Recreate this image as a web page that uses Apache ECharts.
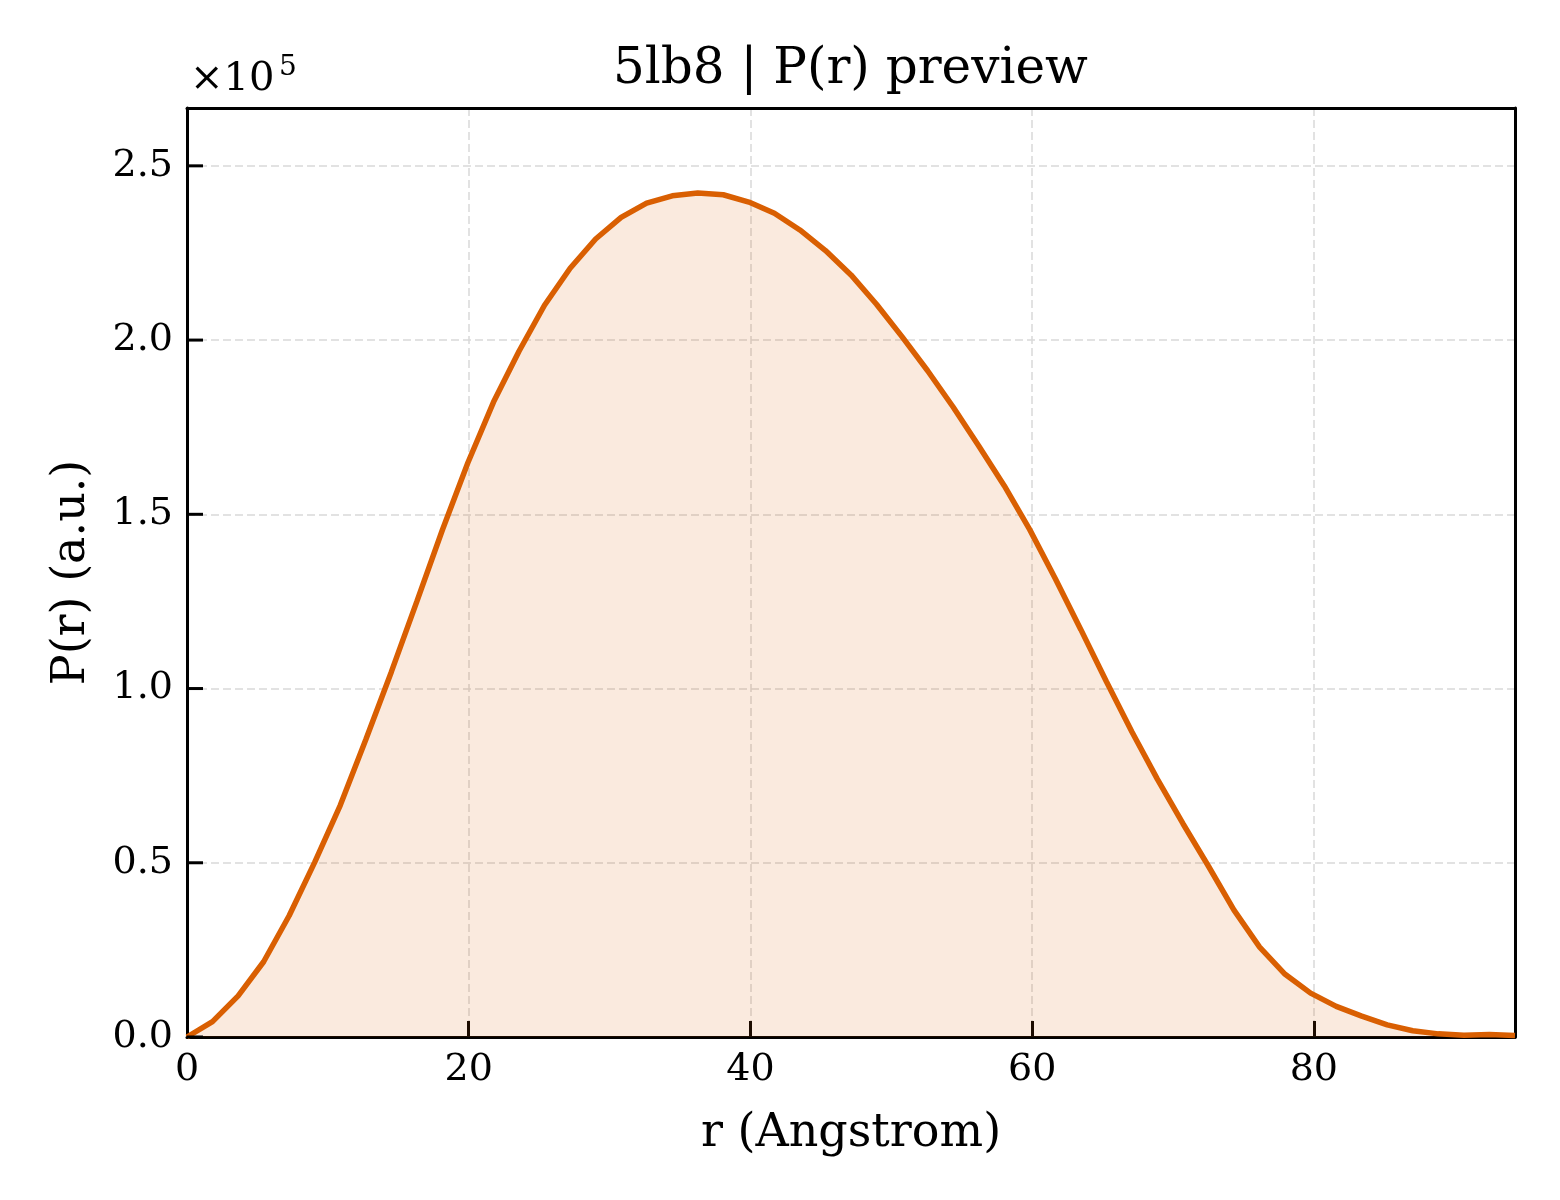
<!DOCTYPE html>
<html>
<head>
<meta charset="utf-8">
<script src="https://cdn.jsdelivr.net/npm/echarts@6/dist/echarts.min.js"></script>
<style>
  html, body { margin: 0; padding: 0; background: #fff; }
  #chart { width: 1560px; height: 1200px; }
</style>
</head>
<body>
<div id="chart"></div>
<script>
// r values (Angstrom)
const rValues = [
  0, 1.81, 3.63, 5.44, 7.25, 9.07, 10.88, 12.69, 14.50, 16.32,
  18.13, 19.94, 21.76, 23.57, 25.38, 27.20, 29.01, 30.82, 32.63, 34.45,
  36.26, 38.07, 39.89, 41.70, 43.51, 45.33, 47.14, 48.95, 50.76, 52.58,
  54.39, 56.20, 58.02, 59.83, 61.64, 63.46, 65.27, 67.08, 68.89, 70.71,
  72.52, 74.33, 76.15, 77.96, 79.77, 81.59, 83.40, 85.21, 87.02, 88.84,
  90.65, 92.46, 94.28
];
// P(r) values in units of 1e5
const prValues = [
  0, 0.044, 0.118, 0.216, 0.348, 0.502, 0.665, 0.853, 1.047, 1.250,
  1.455, 1.648, 1.822, 1.968, 2.100, 2.206, 2.290, 2.352, 2.393, 2.414,
  2.422, 2.417, 2.396, 2.364, 2.316, 2.257, 2.187, 2.103, 2.010, 1.912,
  1.808, 1.697, 1.582, 1.456, 1.316, 1.169, 1.020, 0.876, 0.740, 0.612,
  0.490, 0.364, 0.258, 0.180, 0.126, 0.088, 0.060, 0.035, 0.018, 0.009,
  0.005, 0.007, 0.004
];
const xTicks = [0, 20, 40, 60, 80];
const yTicks = [0, 0.5, 1.0, 1.5, 2.0, 2.5];
const titleText = '5lb8 | P(r) preview';
const xName = 'r (Angstrom)';
const yName = 'P(r) (a.u.)';
const scaleBase = '×10';
const scaleExp = '5';

const FONT = 'DejaVu Serif';
const X_MAX = 94.28, Y_MAX = 2.666;
const TICK_COLOR = '#000000';
const TICK_LEN = 16;
const chart = echarts.init(document.getElementById('chart'), null, { renderer: 'canvas' });
const data = rValues.map((r, i) => [r, prValues[i]]);

function isTick(list, v) {
  return list.some(t => Math.abs(t - v) < 1e-6);
}
function gridLine() {
  return { show: true, showMinLine: false, showMaxLine: false,
    lineStyle: { color: '#d9d9d9', width: 1.5, type: [8, 4] } };
}
function spine() {
  return { show: true, onZero: false, lineStyle: { color: '#000', width: 3 } };
}

chart.setOption({
  animation: false,
  backgroundColor: '#ffffff',
  title: {
    text: titleText,
    left: 608,
    top: 40,
    textStyle: { fontFamily: FONT, fontSize: 50, fontWeight: 'normal', color: '#000' }
  },
  grid: { left: 187, right: 45, top: 108, bottom: 163, show: false },
  xAxis: [{
    type: 'value',
    min: 0, max: X_MAX, interval: 20,
    name: xName,
    nameLocation: 'middle',
    nameGap: 74,
    nameTextStyle: { fontFamily: FONT, fontSize: 46, color: '#000' },
    axisLine: spine(),
    axisTick: { show: true, inside: true, length: TICK_LEN, lineStyle: { color: TICK_COLOR, width: 3 } },
    axisLabel: {
      fontFamily: FONT, fontSize: 38, color: '#000', margin: 14,
      formatter: v => isTick(xTicks, v) ? String(v) : ''
    },
    splitLine: gridLine()
  }, {
    type: 'value', position: 'top', min: 0, max: X_MAX,
    axisLine: spine(), axisTick: { show: false }, axisLabel: { show: false }, splitLine: { show: false }
  }],
  yAxis: [{
    type: 'value',
    min: 0, max: Y_MAX, interval: 0.5,
    name: yName,
    nameLocation: 'middle',
    nameGap: 92,
    nameRotate: 90,
    nameTextStyle: { fontFamily: FONT, fontSize: 46, color: '#000' },
    axisLine: spine(),
    axisTick: { show: false },
    axisLabel: {
      fontFamily: FONT, fontSize: 38, color: '#000', margin: 14,
      formatter: v => isTick(yTicks, v) ? v.toFixed(1) : ''
    },
    splitLine: gridLine()
  }, {
    type: 'value', position: 'right', min: 0, max: Y_MAX,
    axisLine: spine(), axisTick: { show: false }, axisLabel: { show: false }, splitLine: { show: false }
  }],
  series: [{
    type: 'line',
    xAxisIndex: 0, yAxisIndex: 0,
    data: data,
    symbol: 'none',
    smooth: false,
    lineStyle: { color: '#d95f02', width: 5.5 },
    itemStyle: { color: '#d95f02' },
    areaStyle: { color: '#d95f02', opacity: 0.13, origin: 'start' }
  }]
});

// overlay elements placed through the chart's own coordinate conversion
const overlay = [
  { type: 'text', left: 190, top: 60, style: { text: scaleBase, font: '40px "DejaVu Serif"', fill: '#000' } },
  { type: 'text', left: 279, top: 54, style: { text: scaleExp, font: '28px "DejaVu Serif"', fill: '#000' } }
];
yTicks.forEach(v => {
  const p = chart.convertToPixel({ gridIndex: 0 }, [0, v]);
  overlay.push({ type: 'line', z: 100, silent: true,
    shape: { x1: p[0], y1: p[1], x2: p[0] + TICK_LEN, y2: p[1] },
    style: { stroke: TICK_COLOR, lineWidth: 3 } });
});
chart.setOption({ graphic: overlay });
</script>
</body>
</html>
